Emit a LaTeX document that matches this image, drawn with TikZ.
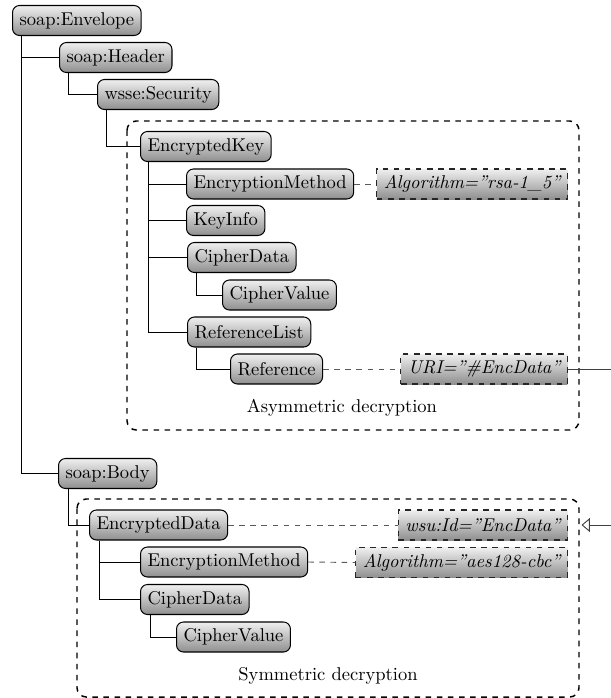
\documentclass[tikz,border=0pt]{standalone}
\usetikzlibrary{arrows.meta}
\begin{document}
\begin{tikzpicture}[x=0.54pt,y=-0.54pt,
  elem/.style={draw=black, line width=0.55pt, rounded corners=3.8pt, top color=gray!12, bottom color=gray!88,
    anchor=west, inner xsep=3.8pt, minimum height=16.2pt},
  attr/.style={draw=black!85, dashed, line width=0.55pt, top color=gray!12, bottom color=gray!88,
    anchor=east, inner xsep=3.8pt, minimum height=16.2pt, font=\itshape},
  tree/.style={draw=black, line width=0.5pt},
  link/.style={draw=black!65, dashed, line width=0.5pt},
  region/.style={draw=black, dashed, line width=0.8pt, rounded corners=5pt}]
\useasboundingbox (0,0) rectangle (610,698);

% regions
\draw[region] (127,121) rectangle (579,430);
\draw[region] (77,499) rectangle (579,697);
\coordinate (symE) at (581.5,525);
\node (asymlbl) at (342,408) {Asymmetric decryption};
\node (symlbl) at (328,676) {Symmetric decryption};

% elements
\node[elem] (env) at (12,20.5) {soap:Envelope};
\node[elem] (hdr) at (59,57.5) {soap:Header};
\node[elem] (sec) at (97,94.5) {wsse:Security};
\node[elem] (ek) at (140,146.5) {EncryptedKey};
\node[elem] (em1) at (186,184) {EncryptionMethod};
\node[elem] (ki) at (186,220.5) {KeyInfo};
\node[elem] (cd1) at (187,257.5) {CipherData};
\node[elem] (cv1) at (222,295) {CipherValue};
\node[elem] (rl) at (187,332) {ReferenceList};
\node[elem] (ref) at (230,369) {Reference};
\node[elem] (body) at (58,473.5) {soap:Body};
\node[elem] (ed) at (89,525) {EncryptedData};
\node[elem] (em2) at (140,562) {EncryptionMethod};
\node[elem] (cd2) at (140,599.5) {CipherData};
\node[elem] (cv2) at (176,637) {CipherValue};

% attributes
\node[attr] (alg1) at (568,184) {Algorithm=''rsa-1\_5''};
\node[attr] (uri) at (568,369) {URI=''\#EncData''};
\node[attr] (wsuid) at (568,525) {wsu:Id=''EncData''};
\node[attr] (alg2) at (568,562.5) {Algorithm=''aes128-cbc''};

% tree connectors
\draw[tree] (env.south west) ++(9,0) |- (hdr.west);
\draw[tree] (env.south west) ++(9,0) |- (body.west);
\draw[tree] (hdr.south west) ++(9,0) |- (sec.west);
\draw[tree] (sec.south west) ++(9,0) |- (ek.west);
\draw[tree] (ek.south west) ++(8.5,0) |- (em1.west);
\draw[tree] (ek.south west) ++(8.5,0) |- (ki.west);
\draw[tree] (ek.south west) ++(8.5,0) |- (cd1.west);
\draw[tree] (ek.south west) ++(8.5,0) |- (rl.west);
\draw[tree] (cd1.south west) ++(9,0) |- (cv1.west);
\draw[tree] (rl.south west) ++(9,0) |- (ref.west);
\draw[tree] (body.south west) ++(10,0) |- (ed.west);
\draw[tree] (ed.south west) ++(10,0) |- (em2.west);
\draw[tree] (ed.south west) ++(10,0) |- (cd2.west);
\draw[tree] (cd2.south west) ++(10,0) |- (cv2.west);

% attribute links
\draw[link] (em1.east) -- (alg1.west);
\draw[link] (ref.east) -- (uri.west);
\draw[link] (ed.east) -- (wsuid.west);
\draw[link] (em2.east) -- (alg2.west);

% reference arrow (runs outside the visible area)
\draw[draw=black!75, line width=0.5pt, -{Triangle[open, width=7.5pt, length=4.5pt]}]
  (uri.east) -- (640,369) -- (640,525) -- (symE);
\end{tikzpicture}
\end{document}
